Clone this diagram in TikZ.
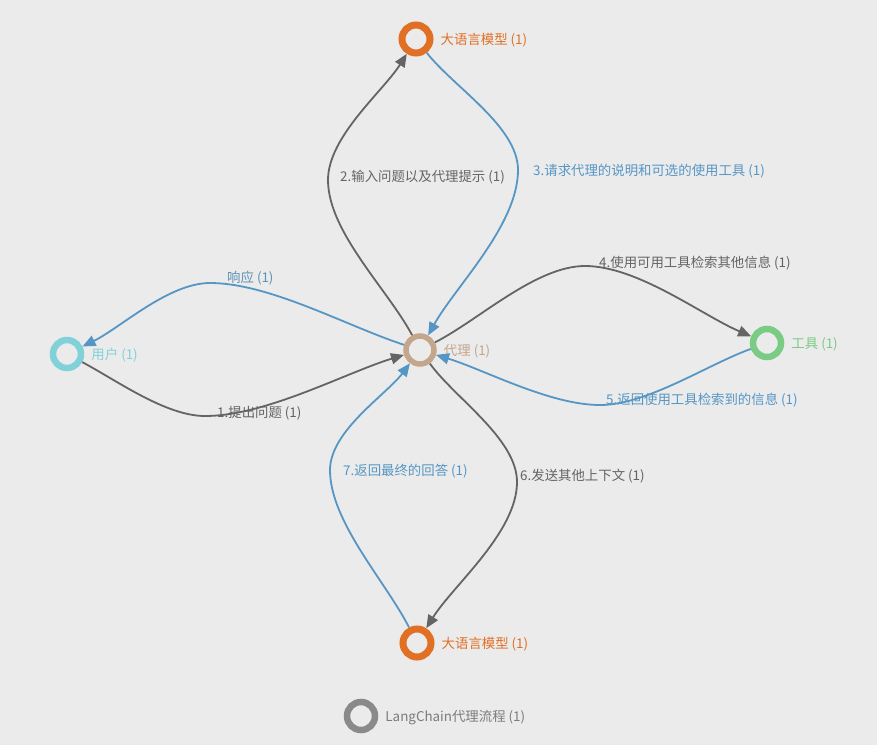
\documentclass[tikz,border=0pt]{standalone}
\usepackage{fontspec}
\newfontfamily\cjk{Noto Sans CJK SC}
\usepackage{xcolor}
\usetikzlibrary{arrows.meta,positioning}

\definecolor{bgc}{RGB}{235,235,235}
\definecolor{llmc}{RGB}{226,112,36}
\definecolor{userc}{RGB}{128,210,216}
\definecolor{agentc}{RGB}{196,166,140}
\definecolor{toolc}{RGB}{122,204,132}
\definecolor{legc}{RGB}{138,138,138}
\definecolor{grayedge}{RGB}{100,100,100}
\definecolor{blueedge}{RGB}{86,150,196}

\begin{document}
\begin{tikzpicture}[
  x=1pt, y=1pt,
  font=\cjk\fontsize{13.4}{15}\selectfont,
  label distance=7pt,
  ent/.style={circle, draw, line width=6.5pt, minimum size=28pt, inner sep=0pt},
  nlbl/.style={inner sep=0pt, yshift=-1.5pt},
  elbl/.style={anchor=west, inner sep=0pt},
  garr/.style={draw=grayedge, line width=1.8pt, looseness=0.75,
    -{Triangle[length=13pt,width=11pt]}},
  barr/.style={draw=blueedge, line width=1.8pt, looseness=0.75,
    -{Triangle[length=13pt,width=11pt]}},
]
\fill[bgc] (0,0) rectangle (877,-745);
\useasboundingbox (0,0) rectangle (877,-745);

% Entities
\node[ent, draw=agentc, line width=5.5pt,
  label={[nlbl, text=agentc]right:代理 (1)}] (agent) at (420,-350) {};
\node[ent, draw=llmc, line width=7pt,
  label={[nlbl, text=llmc]right:大语言模型 (1)}] (llmtop) at (416,-39) {};
\node[ent, draw=userc,
  label={[nlbl, text=userc]right:用户 (1)}] (user) at (67,-354) {};
\node[ent, draw=toolc,
  label={[nlbl, text=toolc]right:工具 (1)}] (tool) at (767,-343) {};
\node[ent, draw=llmc, line width=7pt,
  label={[nlbl, text=llmc]right:大语言模型 (1)}] (llmbot) at (417,-643) {};

% Legend
\node[ent, draw=legc,
  label={[nlbl, text=legc!90!black]right:LangChain代理流程 (1)}] (legend) at (361,-716) {};

% Bends
\coordinate (m1) at (205,-416);
\coordinate (mr) at (210,-283);
\coordinate (m2) at (328,-180);
\coordinate (m3) at (518,-170);
\coordinate (m4) at (585,-266);
\coordinate (m5) at (600,-405);
\coordinate (m6) at (517,-482);
\coordinate (m7) at (330,-470);

% Edges
\draw[garr] (user) to[out=-28,in=180] (m1) to[out=0,in=197] (agent);
\draw[barr] (agent) to[out=162,in=0] (mr) to[out=180,in=26] (user);
\draw[garr] (agent) to[out=118,in=-90] (m2) to[out=90,in=238] (llmtop);
\draw[barr] (llmtop) to[out=-52,in=90] (m3) to[out=-90,in=61] (agent);
\draw[garr] (agent) to[out=27,in=180] (m4) to[out=0,in=157] (tool);
\draw[barr] (tool) to[out=200,in=0] (m5) to[out=180,in=-17] (agent);
\draw[garr] (agent) to[out=-54,in=90] (m6) to[out=-90,in=58] (llmbot);
\draw[barr] (llmbot) to[out=117,in=-90] (m7) to[out=90,in=233] (agent);

% Edge labels
\node[elbl, text=grayedge] (l1) at (217,-413) {1.提出问题 (1)};
\node[elbl, text=blueedge!80!gray] (lr) at (227,-278) {响应 (1)};
\node[elbl, text=grayedge] (l2) at (340,-177) {2.输入问题以及代理提示 (1)};
\node[elbl, text=blueedge] (l3) at (533,-171) {3.请求代理的说明和可选的使用工具 (1)};
\node[elbl, text=grayedge] (l4) at (599,-263) {4.使用可用工具检索其他信息 (1)};
\node[elbl, text=blueedge] (l5) at (606,-400) {5.返回使用工具检索到的信息 (1)};
\node[elbl, text=grayedge] (l6) at (520,-476) {6.发送其他上下文 (1)};
\node[elbl, text=blueedge] (l7) at (343,-471) {7.返回最终的回答 (1)};
\end{tikzpicture}
\end{document}
